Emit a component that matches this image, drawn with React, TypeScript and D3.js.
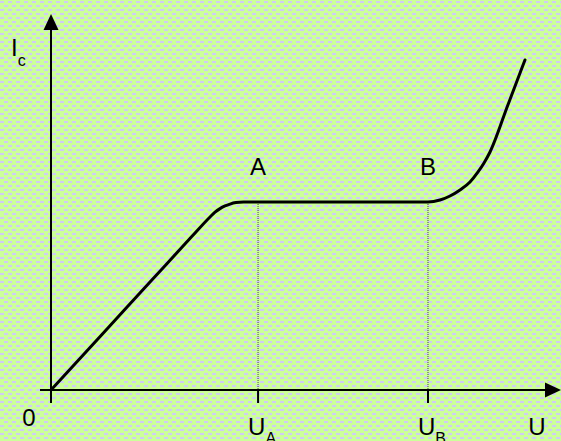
import React from "react";
import * as d3 from "d3";

// Characteristic curve Ic(U): linear rise, rounded knee, plateau between A and B, steep rise after B
const uValues = [
  0, 1.0, 2.0, 2.76, 3.118, 3.216, 3.314, 3.412, 3.51, 3.627, 3.775, 4.5, 5.5, 6.5,
  7.392, 7.627, 7.824, 8.02, 8.216, 8.373, 8.49, 8.608, 8.951, 9.294,
];
const icValues = [
  0, 1.478, 2.957, 4.08, 4.602, 4.729, 4.824, 4.894, 4.944, 4.984, 5.0, 5.0, 5.0, 5.0,
  5.0, 5.053, 5.16, 5.319, 5.532, 5.798, 6.037, 6.33, 7.553, 8.777,
];

// Marked points on the plateau
const markNames = ["A", "B"];
const markU = [4.06, 7.392];
const markIc = [5.0, 5.0];

const W = 561;
const H = 441;
const FONT = "'Liberation Sans', Arial, sans-serif";

export default function App() {
  const x = d3.scaleLinear().domain([0, 10]).range([51, 561]);
  const y = d3.scaleLinear().domain([0, 10]).range([390, 14]);

  const pts: [number, number][] = uValues.map((u, i) => [u, icValues[i]]);
  const line = d3
    .line<[number, number]>()
    .x((d) => x(d[0]))
    .y((d) => y(d[1]))
    .curve(d3.curveMonotoneX);

  const x0 = x(0);
  const y0 = y(0);
  const xEnd = x.range()[1];
  const yTop = y.range()[1];

  return (
    <svg
      width={W}
      height={H}
      style={{ position: "absolute", left: 0, top: 0, display: "block" }}
    >
      <defs>
        <pattern id="bg" width="8" height="8" patternUnits="userSpaceOnUse">
          <rect width="8" height="8" fill="#ccff99" />
          <rect x="0" y="1" width="4" height="2" fill="#cfcdf5" />
          <rect x="4" y="5" width="4" height="2" fill="#cfcdf5" />
        </pattern>
      </defs>
      <rect width={W} height={H} fill="url(#bg)" />

      {/* dotted drop lines and ticks */}
      {markU.map((u, i) => (
        <g key={"m" + i}>
          <line
            x1={x(u)}
            x2={x(u)}
            y1={y(markIc[i])}
            y2={y0}
            stroke="#444"
            strokeWidth={1}
            strokeDasharray="1,1"
          />
          <line x1={x(u)} x2={x(u)} y1={y0} y2={y0 + 13} stroke="#000" strokeWidth={2} />
        </g>
      ))}

      {/* axes */}
      <line x1={x0} x2={x0} y1={y0 + 13} y2={yTop + 15} stroke="#000" strokeWidth={2} />
      <polygon
        points={`${x0},${yTop} ${x0 - 7.5},${yTop + 16} ${x0 + 7.5},${yTop + 16}`}
        fill="#000"
      />
      <line x1={x0 - 11} x2={xEnd - 15} y1={y0} y2={y0} stroke="#000" strokeWidth={2} />
      <polygon
        points={`${xEnd},${y0} ${xEnd - 16},${y0 - 7.5} ${xEnd - 16},${y0 + 7.5}`}
        fill="#000"
      />

      {/* curve */}
      <path
        d={line(pts) || ""}
        fill="none"
        stroke="#000"
        strokeWidth={3}
        strokeLinejoin="round"
        strokeLinecap="round"
      />

      {/* labels */}
      <g fontFamily={FONT} fill="#000">
        <text x={11} y={56} fontSize={24}>
          I<tspan fontSize={16} dy={10}>c</tspan>
        </text>
        {markU.map((u, i) => (
          <text key={"l" + i} x={x(u)} y={175} fontSize={24} textAnchor="middle">
            {markNames[i]}
          </text>
        ))}
        <text x={29} y={426} fontSize={24} textAnchor="middle">
          0
        </text>
        {markU.map((u, i) => (
          <text key={"u" + i} x={x(u) - 10} y={435} fontSize={24}>
            U<tspan fontSize={16} dy={9}>{markNames[i]}</tspan>
          </text>
        ))}
        <text x={537} y={435} fontSize={24} textAnchor="middle">
          U
        </text>
      </g>
    </svg>
  );
}
